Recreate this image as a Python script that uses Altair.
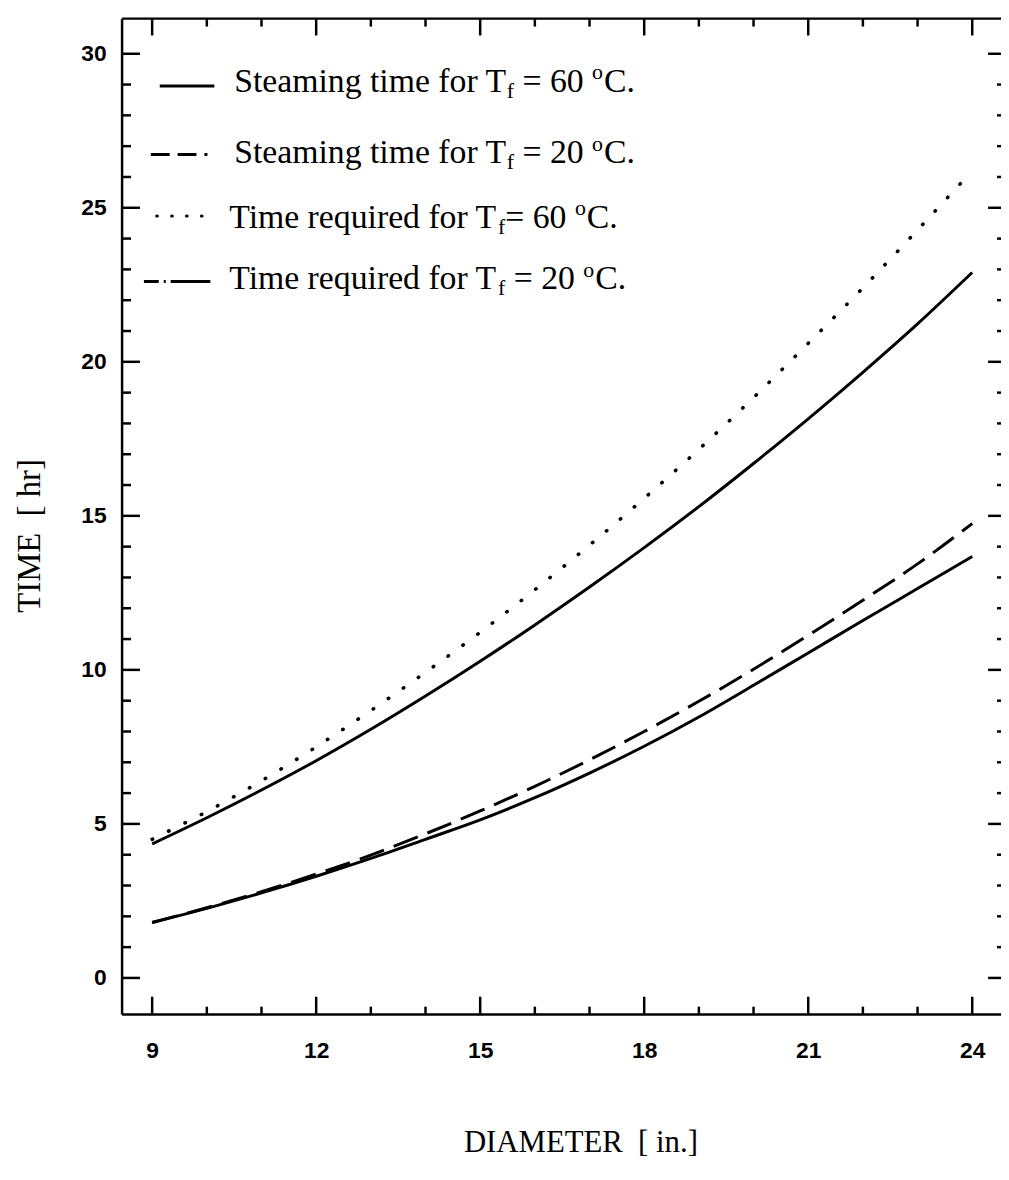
import altair as alt
import pandas as pd

# ---------------- data ----------------
diameter = [9, 10, 11, 12, 13, 14, 15, 16, 17, 18, 19, 20, 21, 22, 23, 24]
steam_60 = [4.35, 5.2, 6.1, 7.05, 8.07, 9.15, 10.28, 11.46, 12.69, 13.97, 15.3, 16.7, 18.15, 19.66, 21.23, 22.9]
req_60 = [4.5, 5.4, 6.4, 7.5, 8.68, 9.92, 11.22, 12.6, 14.05, 15.57, 17.16, 18.84, 20.6, 22.4, 24.28, 26.2]
steam_20 = [1.8, 2.28, 2.8, 3.37, 3.99, 4.68, 5.42, 6.22, 7.08, 8.0, 8.98, 10.02, 11.12, 12.26, 13.44, 14.75]
req_20 = [1.8, 2.26, 2.76, 3.3, 3.88, 4.5, 5.13, 5.85, 6.65, 7.52, 8.47, 9.5, 10.55, 11.6, 12.64, 13.68]

x_major = [9, 12, 15, 18, 21, 24]
x_minor = [10, 11, 13, 14, 16, 17, 19, 20, 22, 23]
y_major = [0, 5, 10, 15, 20, 25, 30]
y_minor = [v for v in range(0, 31) if v % 5]

legend_main = ["Steaming time for T", "Steaming time for T", "Time required for T", "Time required for T"]
legend_eq = ["= 60", "= 20", "= 60", "= 20"]
legend_space_before_eq = [True, True, False, True]

# ---------------- layout ----------------
W, H = 884, 1004
xs = alt.Scale(domain=[8.45, 24.49], nice=False, zero=False)
ys = alt.Scale(domain=[-1.19, 31.14], nice=False, zero=False)

df = pd.DataFrame({"d": diameter, "s60": steam_60, "r60": req_60,
                   "s20": steam_20, "r20": req_20})
base = alt.Chart(df)

x_axis = alt.Axis(values=x_major, title="DIAMETER\u00a0 [ in.]", grid=False, domain=False,
                  ticks=False, tickSize=0, labelFont="Liberation Sans", labelFontWeight="bold",
                  labelFontSize=23, labelColor="black", labelPadding=36, labelBaseline="middle",
                  labelFlush=False, labelOverlap=False,
                  titleFont="Liberation Serif", titleFontSize=31, titleFontWeight="normal",
                  titleColor="black", titleX=462, titleY=138, titleAlign="center",
                  titleBaseline="alphabetic")
y_axis = alt.Axis(values=y_major, title="TIME\u00a0 [ hr]", grid=False, domain=False,
                  ticks=False, tickSize=0, labelFont="Liberation Sans", labelFontWeight="bold",
                  labelFontSize=23, labelColor="black", labelPadding=16,
                  labelFlush=False, labelOverlap=False,
                  titleFont="Liberation Serif", titleFontSize=33, titleFontWeight="normal",
                  titleColor="black", titleAngle=270, titleX=-93, titleY=521,
                  titleAlign="center", titleBaseline="middle")


def X(field):
    return alt.X(field, scale=xs, axis=x_axis)


def Y(field):
    return alt.Y(field, scale=ys, axis=y_axis)


line_s60 = base.mark_line(interpolate="monotone", color="black", strokeWidth=3).encode(
    x=X("d:Q"), y=Y("s60:Q"))
line_r60 = base.mark_line(interpolate="monotone", color="black", strokeWidth=3.6,
                          strokeDash=[0.5, 18], strokeCap="round").encode(
    x=X("d:Q"), y=Y("r60:Q"))
line_s20 = base.mark_line(interpolate="monotone", color="black", strokeWidth=3,
                          strokeDash=[26, 10.5]).encode(
    x=X("d:Q"), y=Y("s20:Q"))
line_r20 = base.mark_line(interpolate="monotone", color="black", strokeWidth=3).encode(
    x=X("d:Q"), y=Y("r20:Q"))

# ---------------- frame and ticks ----------------
tick_w = 2.5
one = pd.DataFrame({"k": [0]})
frame = [
    alt.Chart(one).mark_rule(color="black", strokeWidth=2.5).encode(
        x=alt.value(0), x2=alt.value(W + 2), y=alt.value(0)),
    alt.Chart(one).mark_rule(color="black", strokeWidth=2.5).encode(
        x=alt.value(0), x2=alt.value(W + 2), y=alt.value(H)),
    alt.Chart(one).mark_rule(color="black", strokeWidth=2.5).encode(
        x=alt.value(0), y=alt.value(0), y2=alt.value(H)),
]

dx_major = pd.DataFrame({"v": x_major})
dx_minor = pd.DataFrame({"v": x_minor})
dy_major = pd.DataFrame({"v": y_major})
dy_minor = pd.DataFrame({"v": y_minor})

ticks = []
for dfx, ln_b, ln_t in [(dx_major, 18, 17), (dx_minor, 8, 8)]:
    ticks.append(alt.Chart(dfx).mark_rule(color="black", strokeWidth=tick_w).encode(
        x=X("v:Q"), y=alt.value(H), y2=alt.value(H - ln_b)))
    ticks.append(alt.Chart(dfx).mark_rule(color="black", strokeWidth=tick_w).encode(
        x=X("v:Q"), y=alt.value(0), y2=alt.value(ln_t)))
RIGHT_AXIS = 891
for dfy, ln in [(dy_major, 18), (dy_minor, 9)]:
    ticks.append(alt.Chart(dfy).mark_rule(color="black", strokeWidth=tick_w).encode(
        y=Y("v:Q"), x=alt.value(0), x2=alt.value(ln)))
    ticks.append(alt.Chart(dfy).mark_rule(color="black", strokeWidth=tick_w).encode(
        y=Y("v:Q"), x=alt.value(RIGHT_AXIS - ln), x2=alt.value(W + 2)))

# ---------------- legend ----------------
TNR = {' ': 250, 'S': 556, 't': 278, 'e': 444, 'a': 444, 'm': 778, 'i': 278, 'n': 500,
       'g': 500, 'f': 333, 'o': 500, 'r': 333, 'T': 611, 'q': 500, 'u': 500, 'd': 500,
       '=': 564, '6': 500, '0': 500, '2': 500, 'C': 667, '.': 250}


def tw(s, size):
    return sum(TNR.get(c, 500) for c in s) * size / 1000.0


F, FS = 34, 22
text_x0 = [113, 113, 108, 108]
text_base = [74, 146, 211, 273]
rows = []
for i in range(4):
    x = text_x0[i]
    b = text_base[i]
    rows.append({"px": x, "py": b, "t": legend_main[i], "s": F})
    x += tw(legend_main[i], F)
    rows.append({"px": x, "py": b + 6, "t": "f", "s": FS})
    x += tw("f", FS) + (tw(" ", F) if legend_space_before_eq[i] else 0)
    rows.append({"px": x, "py": b, "t": legend_eq[i], "s": F})
    x += tw(legend_eq[i], F) + tw(" ", F)
    rows.append({"px": x, "py": b - 13, "t": "o", "s": FS})
    x += tw("o", FS) + 1
    rows.append({"px": x, "py": b, "t": "C.", "s": F})
leg_df = pd.DataFrame(rows)

legend_text = alt.Chart(leg_df).mark_text(align="left", baseline="alphabetic",
                                          font="Liberation Serif", color="black").encode(
    x=alt.X("px:Q", scale=None), y=alt.Y("py:Q", scale=None),
    text="t:N", size=alt.Size("s:Q", scale=None))

legend_lines = [
    alt.Chart(one).mark_rule(color="black", strokeWidth=3).encode(
        x=alt.value(38), x2=alt.value(93), y=alt.value(68)),
    alt.Chart(one).mark_rule(color="black", strokeWidth=3, strokeDash=[19, 8]).encode(
        x=alt.value(29), x2=alt.value(86), y=alt.value(137)),
    alt.Chart(one).mark_rule(color="black", strokeWidth=3.2, strokeDash=[0.5, 14.5],
                             strokeCap="round").encode(
        x=alt.value(35), x2=alt.value(81), y=alt.value(199)),
    alt.Chart(one).mark_rule(color="black", strokeWidth=3, strokeDash=[15, 5, 2, 5, 45]).encode(
        x=alt.value(22), x2=alt.value(89), y=alt.value(265)),
]

chart = alt.layer(
    line_s60, line_r60, line_s20, line_r20, *frame, *ticks, *legend_lines, legend_text
).properties(
    width=W, height=H,
    autosize=alt.AutoSizeParams(type="none"),
    padding={"left": 115, "top": 6, "right": 2, "bottom": 160},
    background="white",
).configure_view(stroke="transparent")

chart.save("out.html", embed_options={"renderer": "svg", "actions": False})
